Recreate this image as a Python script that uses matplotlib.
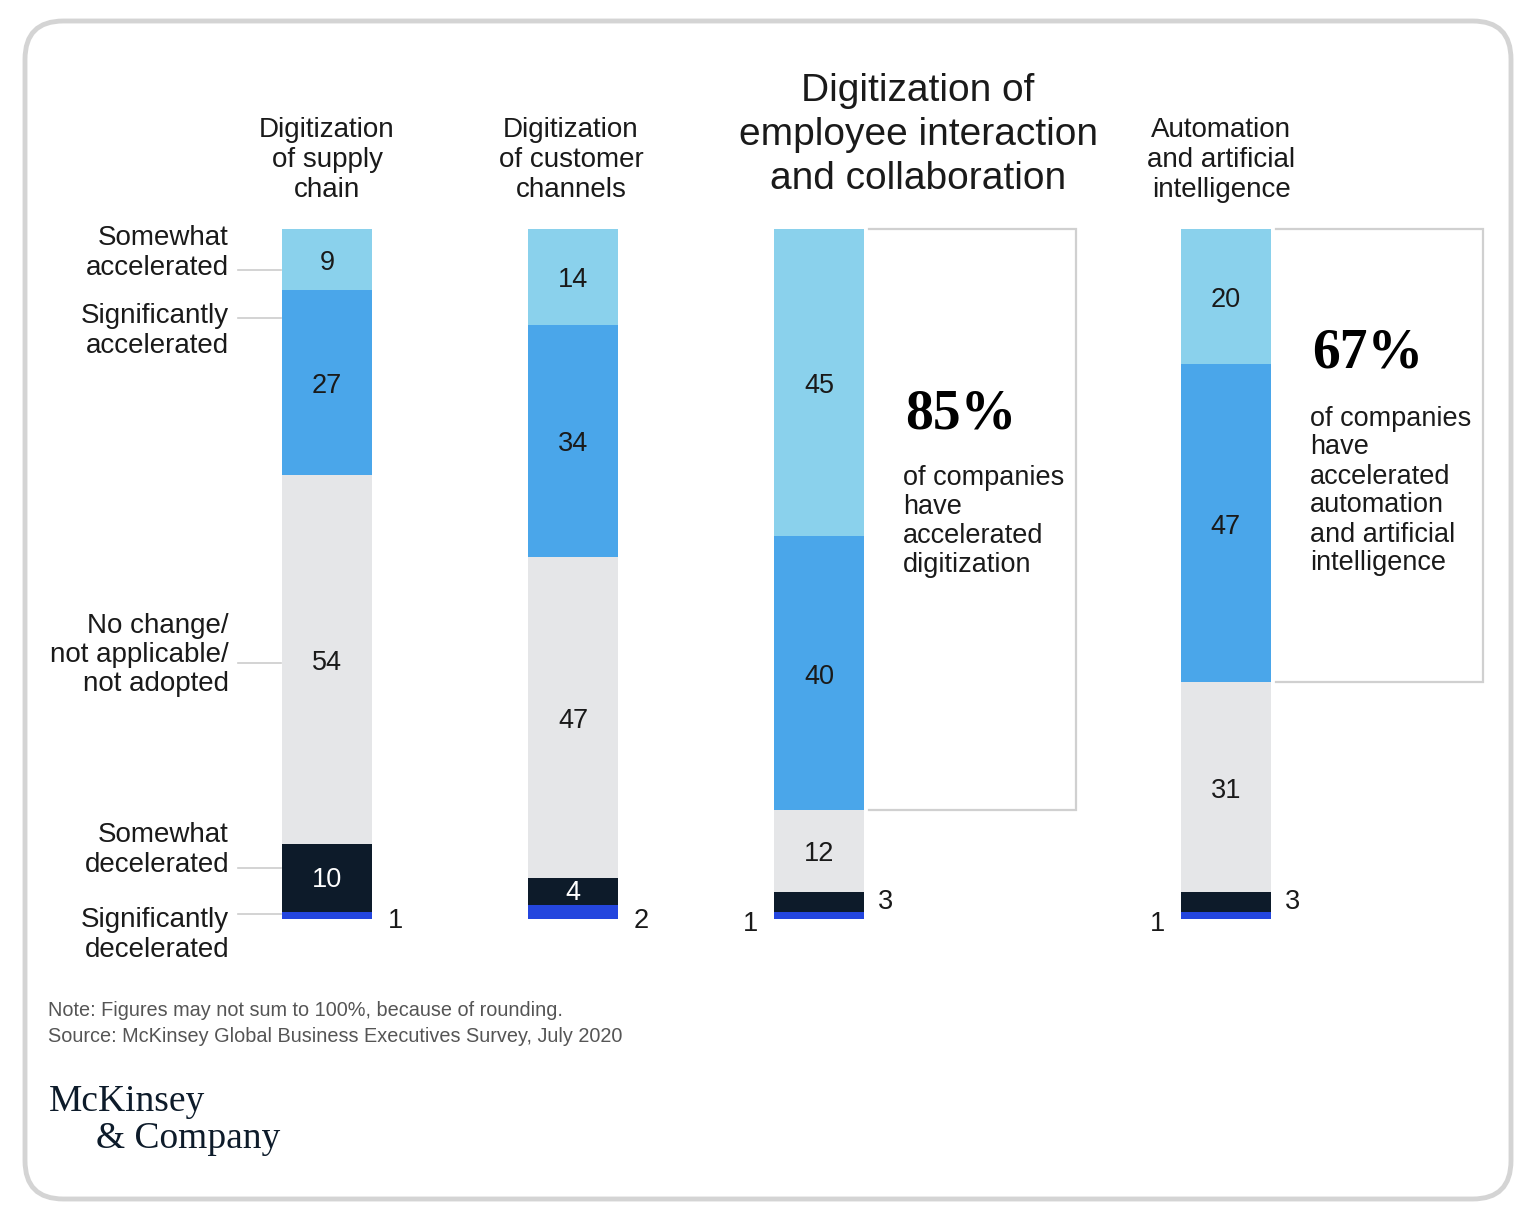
import matplotlib
matplotlib.use("Agg")
import matplotlib.pyplot as plt
from matplotlib.patches import FancyBboxPatch
from matplotlib.lines import Line2D

# ---------------- data ----------------
categories = ["Digitization\nof supply\nchain",
              "Digitization\nof customer\nchannels",
              "Digitization of\nemployee interaction\nand collaboration",
              "Automation\nand artificial\nintelligence"]
segments = ["Significantly\ndecelerated", "Somewhat\ndecelerated",
            "No change/\nnot applicable/\nnot adopted",
            "Significantly\naccelerated", "Somewhat\naccelerated"]
sig_decel = [1, 2, 1, 1]
som_decel = [10, 4, 3, 3]
no_change = [54, 47, 12, 31]
sig_accel = [27, 34, 40, 47]
som_accel = [9, 14, 45, 20]
highlight_pct = [None, None, "85%", "67%"]
highlight_txt = [None, None,
                 "of companies\nhave\naccelerated\ndigitization",
                 "of companies\nhave\naccelerated\nautomation\nand artificial\nintelligence"]
note = "Note: Figures may not sum to 100%, because of rounding."
source = "Source: McKinsey Global Business Executives Survey, July 2020"

colors = ["#2446DE", "#0D1B2A", "#E5E6E8", "#4AA6EA", "#8AD1EC"]
text_colors = ["white", "white", "#1a1a1a", "#1a1a1a", "#1a1a1a"]

# ---------------- layout ----------------
W, H = 1532, 1212
fig = plt.figure(figsize=(W / 100, H / 100), dpi=100)
FONT = "Liberation Sans"
TXT = "#1a1a1a"

def fx(px):
    return px / W

def fy(py):
    return 1 - py / H

# axes covers whole figure; 1 x-unit = 246 px, y: 0 -> px 919, 100 -> px 229
unit = 246.0
x0px = 327.0
ypx_per = 6.9
ax = fig.add_axes([0, 0, 1, 1])
ax.set_xlim(-x0px / unit, (W - x0px) / unit)
ax.set_ylim(-(H - 919) / ypx_per, 919 / ypx_per)
ax.axis("off")

positions = [0, 1, 2, 3.654]
bw = 90 / unit
dy = -3.5 / ypx_per  # small downward nudge for optical centring of digits

series = [sig_decel, som_decel, no_change, sig_accel, som_accel]
for i, pos in enumerate(positions):
    vals = [s[i] for s in series]
    total = sum(vals)
    scaled = [v / total * 100 for v in vals]
    bottom = 0
    navy_outside = False
    for k, (v, sv) in enumerate(zip(vals, scaled)):
        ax.bar(pos, sv, bottom=bottom, width=bw, color=colors[k],
               edgecolor="none", linewidth=0)
        cy = bottom + sv / 2
        if k == 0:
            pass
        elif k == 1:
            if v >= 4:
                ax.text(pos, cy + dy * 0.5, str(v), ha="center", va="center",
                        fontsize=19.5, color="white", family=FONT)
            else:
                navy_outside = True
                ax.text(pos + bw / 2 + 14 / unit, cy, str(v), ha="left",
                        va="center", fontsize=19.5, color=TXT, family=FONT)
        else:
            ax.text(pos, cy + dy, str(v), ha="center", va="center",
                    fontsize=19.5, color=text_colors[k], family=FONT)
        bottom += sv
    # significantly decelerated label
    v0 = vals[0]
    if navy_outside:
        ax.text(pos - bw / 2 - 16 / unit, -0.7, str(v0), ha="right",
                va="center", fontsize=19.5, color=TXT, family=FONT)
    else:
        ax.text(pos + bw / 2 + 16 / unit, -0.3, str(v0), ha="left",
                va="center", fontsize=19.5, color=TXT, family=FONT)

    # highlight boxes
    if highlight_pct[i] is not None:
        acc_bottom = sum(scaled[:3])
        xl = pos + bw / 2 + 5 / unit
        xr = xl + 207 / unit
        ax.plot([xl, xr, xr, xl], [100, 100, acc_bottom, acc_bottom],
                color="#d0d0d0", lw=1.6, solid_joinstyle="miter")

# titles
title_specs = [(327, 160, 20, 1.21), (571, 160, 20, 1.21),
               (918, 135, 28, 1.28), (1221, 160, 20, 1.21)]
for cat, (tx, ty, fs, ls) in zip(categories, title_specs):
    fig.text(fx(tx), fy(ty), cat, ha="center", va="center", fontsize=fs,
             linespacing=ls, color=TXT, family=FONT)

# highlight texts
fig.text(fx(905), fy(414), highlight_pct[2], ha="left", va="center",
         fontsize=40, fontweight="bold", family="Liberation Serif", color="black")
fig.text(fx(903), fy(522), highlight_txt[2], ha="left", va="center",
         fontsize=19.5, linespacing=1.15, color=TXT, family=FONT)
fig.text(fx(1312), fy(353), highlight_pct[3], ha="left", va="center",
         fontsize=40, fontweight="bold", family="Liberation Serif", color="black")
fig.text(fx(1310), fy(491), highlight_txt[3], ha="left", va="center",
         fontsize=19.5, linespacing=1.15, color=TXT, family=FONT)

# left legend labels with leader lines
label_specs = [  # (segment index, text center y px, leader y px)
    (4, 253, 270),
    (3, 331, 318),
    (2, 655, 663),
    (1, 850, 868),
    (0, 935, 914),
]
for k, ty, ly in label_specs:
    fig.text(fx(229), fy(ty), segments[k], ha="right", va="center",
             fontsize=20, linespacing=1.17, color=TXT, family=FONT)
    fig.add_artist(Line2D([fx(238), fx(281)], [fy(ly), fy(ly)],
                          color="#cccccc", lw=1.2))

# note and source
fig.text(fx(48), fy(1011), note, ha="left", va="center", fontsize=14.3,
         color="#555555", family=FONT)
fig.text(fx(48), fy(1036), source, ha="left", va="center", fontsize=14.3,
         color="#555555", family=FONT)

# logo
fig.text(fx(49), fy(1102), "McKinsey", ha="left", va="center", fontsize=27,
         color="#0D1B2A", family="Liberation Serif")
fig.text(fx(96), fy(1139), "& Company", ha="left", va="center", fontsize=27,
         color="#0D1B2A", family="Liberation Serif")

# outer rounded border
border = FancyBboxPatch((fx(25), fy(1199)), fx(1511) - fx(25), fy(21) - fy(1199),
                        boxstyle="round,pad=0,rounding_size=0.025",
                        transform=fig.transFigure, facecolor="none",
                        edgecolor="#d4d4d4", lw=3.5, mutation_aspect=W / H)
fig.add_artist(border)

fig.savefig("out.png", dpi=100, facecolor="white")
